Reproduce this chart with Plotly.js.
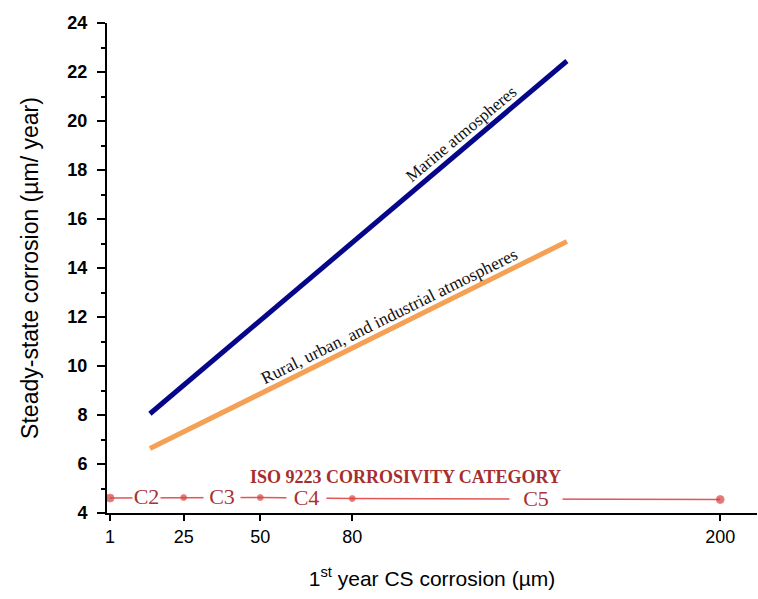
<!DOCTYPE html>
<html>
<head>
<meta charset="utf-8">
<script src="https://cdn.plot.ly/plotly-3.0.1.min.js"></script>
<style>html,body{margin:0;padding:0;background:#fff;}#chart{width:758px;height:599px;}</style>
</head>
<body>
<div id="chart"></div>
<script>
// ---- data ----
const firstYearX = [14, 150];
const marineY = [8.05, 22.45];
const ruralY = [6.63, 15.08];

const categoryBounds = [1, 25, 50, 80, 200];
const categoryLevelY = [4.61, 4.63, 4.63, 4.59, 4.55];
const categoryLabels = ['C2', 'C3', 'C4', 'C5'];
const categoryGapWidths = [27, 36, 39, 52];

const xTickVals = [1, 25, 50, 80, 200];
const xTickText = ['1', '25', '50', '80', '200'];
const yTickVals = [4, 6, 8, 10, 12, 14, 16, 18, 20, 22, 24];
const yTickText = ['4', '6', '8', '10', '12', '14', '16', '18', '20', '22', '24'];

const lineLabels = ['Marine atmospheres', 'Rural, urban, and industrial atmospheres'];

// ---- traces ----
const last = categoryBounds.length - 1;
const traces = [
  {x: firstYearX, y: marineY, mode: 'lines', line: {color: '#06068a', width: 5}, hoverinfo: 'skip'},
  {x: firstYearX, y: ruralY, mode: 'lines', line: {color: '#F5A155', width: 5}, hoverinfo: 'skip'},
  {x: categoryBounds, y: categoryLevelY, mode: 'lines+markers',
   line: {color: '#E25656', width: 1.5},
   marker: {color: '#D43F3F', size: categoryBounds.map((_, i) => (i === 0 || i === last) ? 8 : 6)},
   cliponaxis: false, hoverinfo: 'skip'}
];

const annotations = [];
categoryLabels.forEach((lab, i) => {
  const mid = (categoryBounds[i] + categoryBounds[i + 1]) / 2;
  const my = (categoryLevelY[i] + categoryLevelY[i + 1]) / 2;
  annotations.push({x: mid, y: my, xref: 'x', yref: 'y', text: lab, showarrow: false,
    bgcolor: '#ffffff', width: categoryGapWidths[i], borderpad: 0,
    font: {family: 'Liberation Serif, Times New Roman, serif', size: 22, color: '#A93232'},
    yshift: 1});
});
annotations.push({x: 97.5, y: 5.47, xref: 'x', yref: 'y', text: '<b>ISO 9223 CORROSIVITY CATEGORY</b>', showarrow: false,
  font: {family: 'Liberation Serif, Times New Roman, serif', size: 18, color: '#A52E2E'}});
annotations.push({x: 115.3, y: 19.46, xref: 'x', yref: 'y', text: lineLabels[0], showarrow: false, textangle: -40,
  font: {family: 'Liberation Serif, Times New Roman, serif', size: 17, color: '#111'}});
annotations.push({x: 92, y: 12.06, xref: 'x', yref: 'y', text: lineLabels[1], showarrow: false, textangle: -26.4,
  font: {family: 'Liberation Serif, Times New Roman, serif', size: 17.5, color: '#111'}});

const layout = {
  width: 758, height: 599,
  margin: {l: 107, r: 1, t: 23, b: 86},
  paper_bgcolor: '#fff', plot_bgcolor: '#fff',
  showlegend: false,
  xaxis: {
    range: [0, 212], tickvals: xTickVals, ticktext: xTickText,
    showgrid: false, zeroline: false, showline: true, linecolor: '#000', linewidth: 2,
    ticks: 'outside', ticklen: 6, tickwidth: 2, tickcolor: '#000',
    tickfont: {family: 'Liberation Sans, Arial, sans-serif', size: 18, color: '#000'},
    title: {text: '1<sup>st</sup> year CS corrosion (µm)', standoff: 26,
      font: {family: 'Liberation Sans, Arial, sans-serif', size: 21, color: '#000'}}
  },
  yaxis: {
    range: [4, 24], tickvals: yTickVals, ticktext: yTickText.map(t => '<b>' + t + '</b>'),
    showgrid: false, zeroline: false, showline: true, linecolor: '#000', linewidth: 2,
    ticks: 'outside', ticklen: 8, tickwidth: 2, tickcolor: '#000',
    ticklabelstandoff: 6,
    minor: {dtick: 1, tick0: 4, ticks: 'outside', ticklen: 4, tickwidth: 2, tickcolor: '#000', showgrid: false},
    tickfont: {family: 'Liberation Sans, Arial, sans-serif', size: 18, color: '#000'},
    title: {text: 'Steady-state corrosion (µm/ year)', standoff: 22,
      font: {family: 'Liberation Sans, Arial, sans-serif', size: 23, color: '#000'}}
  },
  annotations: annotations
};

Plotly.newPlot('chart', traces, layout, {staticPlot: true, displayModeBar: false});
</script>
</body>
</html>
